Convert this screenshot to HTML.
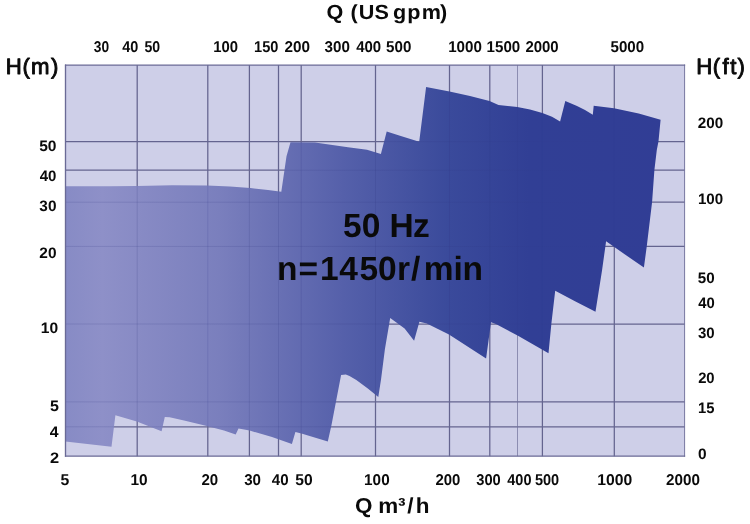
<!DOCTYPE html>
<html lang="en">
<head>
<meta charset="utf-8">
<title>Pump performance range 50 Hz</title>
<style>
html,body{margin:0;padding:0;background:#fff;}
body{width:750px;height:524px;overflow:hidden;}
svg{display:block;}
svg text{font-family:"Liberation Sans",sans-serif;fill:#0a0a0a;text-rendering:geometricPrecision;}
</style>
</head>
<body>
<svg width="750" height="524" viewBox="0 0 750 524">
<defs>
<linearGradient id="g" gradientUnits="userSpaceOnUse" x1="65" y1="0" x2="684" y2="0">
<stop offset="0" stop-color="#878bc5"/>
<stop offset="0.06" stop-color="#8e90c8"/>
<stop offset="0.25" stop-color="#7a7fbd"/>
<stop offset="0.45" stop-color="#5560aa"/>
<stop offset="0.62" stop-color="#3a4a9b"/>
<stop offset="0.75" stop-color="#313f95"/>
<stop offset="1" stop-color="#313d95"/>
</linearGradient>
<linearGradient id="gl" gradientUnits="userSpaceOnUse" x1="65" y1="0" x2="684" y2="0">
<stop offset="0" stop-color="#2a2f7a" stop-opacity="0.17"/>
<stop offset="0.6" stop-color="#2a2f7a" stop-opacity="0.15"/>
<stop offset="0.8" stop-color="#2a2f7a" stop-opacity="0.04"/>
<stop offset="1" stop-color="#2a2f7a" stop-opacity="0"/>
</linearGradient>
<clipPath id="c"><polygon points="65.4,186.3 110.0,186.2 137.0,186.0 172.0,185.3 207.0,185.5 230.0,186.6 250.4,188.0 268.0,190.0 281.3,191.8 286.5,156.2 290.5,142.3 315.0,142.4 348.0,147.2 367.0,149.8 380.9,154.1 386.7,131.4 400.0,135.7 419.2,141.8 426.1,87.1 449.5,91.6 470.0,96.0 489.5,101.0 498.5,105.0 517.3,106.9 530.0,109.5 542.4,112.9 552.0,116.8 560.1,121.6 565.3,101.1 577.0,106.0 585.0,110.0 592.8,114.7 593.7,105.8 614.0,108.3 638.7,113.5 660.6,119.8 658.5,141.3 656.8,150.0 654.4,170.0 652.1,202.1 646.8,246.1 643.9,267.5 625.0,254.5 606.1,241.2 602.1,270.0 595.5,311.8 575.0,301.2 555.2,290.8 551.4,323.5 548.5,353.2 518.0,335.8 495.9,323.9 491.0,322.2 486.1,358.4 449.0,334.5 426.8,323.4 419.4,321.8 414.1,340.8 404.6,328.4 390.2,317.9 384.9,349.3 381.1,379.1 378.3,397.1 367.8,388.6 356.3,380.0 349.5,376.0 345.8,374.4 341.1,374.9 336.3,400.1 331.5,424.9 327.8,441.4 301.4,433.5 295.4,432.1 291.9,444.1 272.0,436.9 249.6,430.6 238.5,428.6 235.7,434.6 224.0,430.4 204.8,425.6 184.0,420.5 169.6,417.3 164.8,417.0 161.6,431.2 136.8,421.6 115.4,415.2 111.5,446.7 65.4,441.6"/></clipPath>
</defs>
<rect x="65.5" y="65.1" width="619.1" height="391.04999999999995" fill="#cecfe8"/>
<g stroke="#64648f" stroke-width="1.25" fill="none"><line x1="137.2" y1="65.1" x2="137.2" y2="456.15"/><line x1="207.8" y1="65.1" x2="207.8" y2="456.15"/><line x1="249.4" y1="65.1" x2="249.4" y2="456.15"/><line x1="278.5" y1="65.1" x2="278.5" y2="456.15"/><line x1="301.2" y1="65.1" x2="301.2" y2="456.15"/><line x1="375.5" y1="65.1" x2="375.5" y2="456.15"/><line x1="449.5" y1="65.1" x2="449.5" y2="456.15"/><line x1="489.8" y1="65.1" x2="489.8" y2="456.15"/><line x1="542.4" y1="65.1" x2="542.4" y2="456.15"/><line x1="614.3" y1="65.1" x2="614.3" y2="456.15"/><line x1="65.5" y1="141.7" x2="684.6" y2="141.7"/><line x1="65.5" y1="170.2" x2="684.6" y2="170.2"/><line x1="65.5" y1="202.2" x2="684.6" y2="202.2"/><line x1="65.5" y1="246.4" x2="684.6" y2="246.4"/><line x1="65.5" y1="324.0" x2="684.6" y2="324.0"/><line x1="65.5" y1="401.9" x2="684.6" y2="401.9"/><line x1="65.5" y1="426.8" x2="684.6" y2="426.8"/></g>
<g stroke="#70709a" stroke-width="0.7" fill="none"><line x1="517.5" y1="65.1" x2="517.5" y2="456.15"/></g>
<polygon points="65.4,186.3 110.0,186.2 137.0,186.0 172.0,185.3 207.0,185.5 230.0,186.6 250.4,188.0 268.0,190.0 281.3,191.8 286.5,156.2 290.5,142.3 315.0,142.4 348.0,147.2 367.0,149.8 380.9,154.1 386.7,131.4 400.0,135.7 419.2,141.8 426.1,87.1 449.5,91.6 470.0,96.0 489.5,101.0 498.5,105.0 517.3,106.9 530.0,109.5 542.4,112.9 552.0,116.8 560.1,121.6 565.3,101.1 577.0,106.0 585.0,110.0 592.8,114.7 593.7,105.8 614.0,108.3 638.7,113.5 660.6,119.8 658.5,141.3 656.8,150.0 654.4,170.0 652.1,202.1 646.8,246.1 643.9,267.5 625.0,254.5 606.1,241.2 602.1,270.0 595.5,311.8 575.0,301.2 555.2,290.8 551.4,323.5 548.5,353.2 518.0,335.8 495.9,323.9 491.0,322.2 486.1,358.4 449.0,334.5 426.8,323.4 419.4,321.8 414.1,340.8 404.6,328.4 390.2,317.9 384.9,349.3 381.1,379.1 378.3,397.1 367.8,388.6 356.3,380.0 349.5,376.0 345.8,374.4 341.1,374.9 336.3,400.1 331.5,424.9 327.8,441.4 301.4,433.5 295.4,432.1 291.9,444.1 272.0,436.9 249.6,430.6 238.5,428.6 235.7,434.6 224.0,430.4 204.8,425.6 184.0,420.5 169.6,417.3 164.8,417.0 161.6,431.2 136.8,421.6 115.4,415.2 111.5,446.7 65.4,441.6" fill="url(#g)"/>
<g clip-path="url(#c)" stroke-width="1" fill="none"><line x1="137.2" y1="65.1" x2="137.2" y2="456.15" stroke="#2a2f7a" stroke-opacity="0.166"/><line x1="207.8" y1="65.1" x2="207.8" y2="456.15" stroke="#2a2f7a" stroke-opacity="0.162"/><line x1="249.4" y1="65.1" x2="249.4" y2="456.15" stroke="#2a2f7a" stroke-opacity="0.160"/><line x1="278.5" y1="65.1" x2="278.5" y2="456.15" stroke="#2a2f7a" stroke-opacity="0.159"/><line x1="301.2" y1="65.1" x2="301.2" y2="456.15" stroke="#2a2f7a" stroke-opacity="0.157"/><line x1="375.5" y1="65.1" x2="375.5" y2="456.15" stroke="#2a2f7a" stroke-opacity="0.153"/><line x1="449.5" y1="65.1" x2="449.5" y2="456.15" stroke="#2a2f7a" stroke-opacity="0.138"/><line x1="489.8" y1="65.1" x2="489.8" y2="456.15" stroke="#2a2f7a" stroke-opacity="0.103"/><line x1="542.4" y1="65.1" x2="542.4" y2="456.15" stroke="#2a2f7a" stroke-opacity="0.056"/><line x1="614.3" y1="65.1" x2="614.3" y2="456.15" stroke="#2a2f7a" stroke-opacity="0.023"/><line x1="517.5" y1="65.1" x2="517.5" y2="456.15" stroke="#2a2f7a" stroke-opacity="0.078"/><rect x="65.5" y="141.2" width="619.1" height="1" fill="url(#gl)"/><rect x="65.5" y="169.7" width="619.1" height="1" fill="url(#gl)"/><rect x="65.5" y="201.7" width="619.1" height="1" fill="url(#gl)"/><rect x="65.5" y="245.9" width="619.1" height="1" fill="url(#gl)"/><rect x="65.5" y="323.5" width="619.1" height="1" fill="url(#gl)"/><rect x="65.5" y="401.4" width="619.1" height="1" fill="url(#gl)"/><rect x="65.5" y="426.3" width="619.1" height="1" fill="url(#gl)"/></g>
<g stroke="#6a6a96" fill="none" stroke-linecap="square">
<line x1="65.5" y1="65.1" x2="65.5" y2="456.15" stroke-width="1.35"/>
<line x1="65.5" y1="65.1" x2="684.6" y2="65.1" stroke-width="1.1"/>
<line x1="684.6" y1="65.1" x2="684.6" y2="456.15" stroke-width="0.9"/>
<line x1="65.5" y1="456.15" x2="684.6" y2="456.15" stroke-width="1.1"/>
</g>
<g>
<text x="93.85" y="52.35" font-size="15.6" font-weight="bold" text-anchor="start" textLength="15.33" lengthAdjust="spacingAndGlyphs">30</text>
<text x="122.18" y="52.35" font-size="15.6" font-weight="bold" text-anchor="start" textLength="16.11" lengthAdjust="spacingAndGlyphs">40</text>
<text x="144.39" y="52.35" font-size="15.6" font-weight="bold" text-anchor="start" textLength="15.68" lengthAdjust="spacingAndGlyphs">50</text>
<text x="213.16" y="52.35" font-size="15.6" font-weight="bold" text-anchor="start" textLength="24.84" lengthAdjust="spacingAndGlyphs">100</text>
<text x="254.1" y="52.35" font-size="15.6" font-weight="bold" text-anchor="start" textLength="24.36" lengthAdjust="spacingAndGlyphs">150</text>
<text x="284.5" y="52.35" font-size="15.6" font-weight="bold" text-anchor="start" textLength="25.54" lengthAdjust="spacingAndGlyphs">200</text>
<text x="324.59" y="52.35" font-size="15.6" font-weight="bold" text-anchor="start" textLength="25.35" lengthAdjust="spacingAndGlyphs">300</text>
<text x="356.14" y="52.35" font-size="15.6" font-weight="bold" text-anchor="start" textLength="25.01" lengthAdjust="spacingAndGlyphs">400</text>
<text x="386.07" y="52.35" font-size="15.6" font-weight="bold" text-anchor="start" textLength="25.28" lengthAdjust="spacingAndGlyphs">500</text>
<text x="448.14" y="52.35" font-size="15.6" font-weight="bold" text-anchor="start" textLength="33.76" lengthAdjust="spacingAndGlyphs">1000</text>
<text x="486.6" y="52.35" font-size="15.6" font-weight="bold" text-anchor="start" textLength="33.61" lengthAdjust="spacingAndGlyphs">1500</text>
<text x="525.42" y="52.35" font-size="15.6" font-weight="bold" text-anchor="start" textLength="33.3" lengthAdjust="spacingAndGlyphs">2000</text>
<text x="610.52" y="52.35" font-size="15.6" font-weight="bold" text-anchor="start" textLength="33.65" lengthAdjust="spacingAndGlyphs">5000</text>
<text x="60.51" y="485.35" font-size="15.6" font-weight="bold" text-anchor="start" textLength="8.79" lengthAdjust="spacingAndGlyphs">5</text>
<text x="130.51" y="485.35" font-size="15.6" font-weight="bold" text-anchor="start" textLength="17.19" lengthAdjust="spacingAndGlyphs">10</text>
<text x="201.42" y="485.35" font-size="15.6" font-weight="bold" text-anchor="start" textLength="16.75" lengthAdjust="spacingAndGlyphs">20</text>
<text x="244.18" y="485.35" font-size="15.6" font-weight="bold" text-anchor="start" textLength="16.84" lengthAdjust="spacingAndGlyphs">30</text>
<text x="271.87" y="485.35" font-size="15.6" font-weight="bold" text-anchor="start" textLength="16.82" lengthAdjust="spacingAndGlyphs">40</text>
<text x="295.2" y="485.35" font-size="15.6" font-weight="bold" text-anchor="start" textLength="17.4" lengthAdjust="spacingAndGlyphs">50</text>
<text x="364.12" y="485.35" font-size="15.6" font-weight="bold" text-anchor="start" textLength="25.54" lengthAdjust="spacingAndGlyphs">100</text>
<text x="435.42" y="485.35" font-size="15.6" font-weight="bold" text-anchor="start" textLength="24.92" lengthAdjust="spacingAndGlyphs">200</text>
<text x="476.23" y="485.35" font-size="15.6" font-weight="bold" text-anchor="start" textLength="24.52" lengthAdjust="spacingAndGlyphs">300</text>
<text x="507.3" y="485.35" font-size="15.6" font-weight="bold" text-anchor="start" textLength="24.2" lengthAdjust="spacingAndGlyphs">400</text>
<text x="534.94" y="485.35" font-size="15.6" font-weight="bold" text-anchor="start" textLength="24.25" lengthAdjust="spacingAndGlyphs">500</text>
<text x="597.19" y="485.35" font-size="15.6" font-weight="bold" text-anchor="start" textLength="35.02" lengthAdjust="spacingAndGlyphs">1000</text>
<text x="666.01" y="485.35" font-size="15.6" font-weight="bold" text-anchor="start" textLength="33.88" lengthAdjust="spacingAndGlyphs">2000</text>
<text x="39.18" y="151.1" font-size="15.1" font-weight="bold" text-anchor="start" textLength="17.33" lengthAdjust="spacingAndGlyphs">50</text>
<text x="39.7" y="180.6" font-size="15.1" font-weight="bold" text-anchor="start" textLength="16.69" lengthAdjust="spacingAndGlyphs">40</text>
<text x="39.33" y="211" font-size="15.1" font-weight="bold" text-anchor="start" textLength="17.11" lengthAdjust="spacingAndGlyphs">30</text>
<text x="39.32" y="257.7" font-size="15.1" font-weight="bold" text-anchor="start" textLength="17.15" lengthAdjust="spacingAndGlyphs">20</text>
<text x="40.86" y="333.1" font-size="15.1" font-weight="bold" text-anchor="start" textLength="17.33" lengthAdjust="spacingAndGlyphs">10</text>
<text x="50.13" y="410.7" font-size="15.1" font-weight="bold" text-anchor="start" textLength="8.93" lengthAdjust="spacingAndGlyphs">5</text>
<text x="49.85" y="437.2" font-size="15.1" font-weight="bold" text-anchor="start" textLength="8.8" lengthAdjust="spacingAndGlyphs">4</text>
<text x="50.07" y="463.0" font-size="15.1" font-weight="bold" text-anchor="start" textLength="9.13" lengthAdjust="spacingAndGlyphs">2</text>
<text x="697.75" y="127.9" font-size="15.1" font-weight="bold" text-anchor="start" textLength="25.42" lengthAdjust="spacingAndGlyphs">200</text>
<text x="697.88" y="203.8" font-size="15.1" font-weight="bold" text-anchor="start" textLength="25.22" lengthAdjust="spacingAndGlyphs">100</text>
<text x="697.85" y="283.4" font-size="15.1" font-weight="bold" text-anchor="start" textLength="16.88" lengthAdjust="spacingAndGlyphs">50</text>
<text x="698.2" y="307.7" font-size="15.1" font-weight="bold" text-anchor="start" textLength="16.48" lengthAdjust="spacingAndGlyphs">40</text>
<text x="697.99" y="338.4" font-size="15.1" font-weight="bold" text-anchor="start" textLength="16.7" lengthAdjust="spacingAndGlyphs">30</text>
<text x="698.14" y="383.4" font-size="15.1" font-weight="bold" text-anchor="start" textLength="16.5" lengthAdjust="spacingAndGlyphs">20</text>
<text x="698.05" y="413.2" font-size="15.1" font-weight="bold" text-anchor="start" textLength="16.45" lengthAdjust="spacingAndGlyphs">15</text>
<text x="697.97" y="458.5" font-size="15.1" font-weight="bold" text-anchor="start" textLength="8.6" lengthAdjust="spacingAndGlyphs">0</text>
</g>
<g>
<text x="308.0 323.9 330.7 338.4 353.2 366.8 370.7 384.1 397.8 415.2" y="19.1" font-size="20.4" font-weight="bold" transform="scale(1.06,1)">Q (US gpm)</text>
<text x="5.7 22.5 31.1 50.9" y="74.1" font-size="22.2" font-weight="normal" stroke="#0a0a0a" stroke-width="0.9" stroke-linejoin="round">H(m)</text>
<text x="696.3 712.8 722.4 730.3 737.6" y="74.0" font-size="22.2" font-weight="normal" stroke="#0a0a0a" stroke-width="0.9" stroke-linejoin="round">H(ft)</text>
<text x="341.3 358.1 363.8 382.6 391.7 399.7" y="513.4" font-size="21.6" font-weight="bold" transform="scale(1.04,1)">Q m³/h</text>
<text x="342.9 361.7 380.3 389.6 413.0" y="237" font-size="33.5" font-weight="bold">50 Hz</text>
<text x="277.1 298.5 320.1 339.2 359.4 378.1 397.1 411.1 423.7 453.4 462.6" y="279.7" font-size="33.5" font-weight="bold">n=1450r/min</text>
</g>
</svg>
</body>
</html>
